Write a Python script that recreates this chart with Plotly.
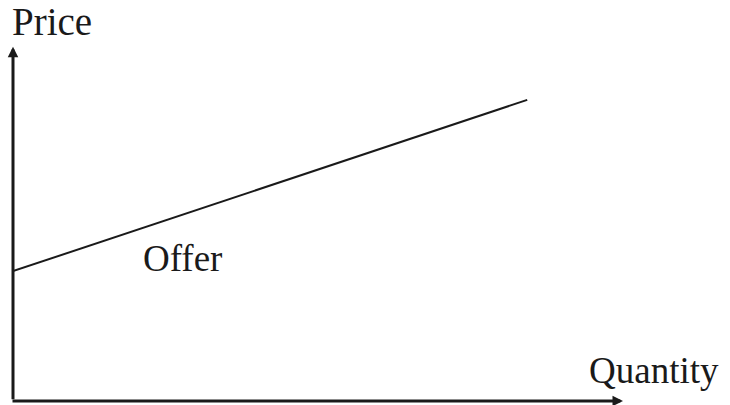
import plotly.graph_objects as go

# Offer (supply) curve: price rises linearly with quantity
quantity = [0.0, 8.43]
price = [3.70, 8.58]

x_label = "Quantity"
y_label = "Price"
curve_label = "Offer"

INK = "#1a1a1a"
FONT = "Liberation Serif, Times New Roman, serif"

fig = go.Figure()
fig.add_trace(go.Scatter(
    x=quantity, y=price, mode="lines",
    line=dict(color=INK, width=2),
    cliponaxis=False, hoverinfo="skip", showlegend=False,
))

annotations = [
    # vertical axis with arrow
    dict(x=0, y=1.009, xref="paper", yref="paper", ax=0, ay=354, axref="pixel", ayref="pixel",
         showarrow=True, arrowhead=2, arrowsize=0.7, arrowwidth=3, arrowcolor=INK, text="",
         standoff=0, startstandoff=0),
    # horizontal axis with arrow
    dict(x=1, y=0, xref="paper", yref="paper", ax=-612, ay=0,
         showarrow=True, arrowhead=2, arrowsize=0.7, arrowwidth=3, arrowcolor=INK, text="",
         standoff=0, startstandoff=0),
    dict(x=-0.0049, y=1.080, xref="paper", yref="paper", xanchor="left", yanchor="middle",
         text=y_label, showarrow=False, font=dict(family=FONT, size=39, color=INK)),
    dict(x=1.051, y=0.088, xref="paper", yref="paper", xanchor="center", yanchor="middle",
         text=x_label, showarrow=False, font=dict(family=FONT, size=37, color=INK)),
    dict(x=2.78, y=4.07, xref="x", yref="y", xanchor="center", yanchor="middle",
         text=curve_label, showarrow=False, font=dict(family=FONT, size=37, color=INK)),
]

fig.update_layout(
    width=730, height=405,
    margin=dict(l=13, r=107, t=50, b=4),
    paper_bgcolor="white", plot_bgcolor="white",
    xaxis=dict(range=[0, 10], visible=False, fixedrange=True),
    yaxis=dict(range=[0, 10], visible=False, fixedrange=True),
    annotations=annotations,
)

fig.write_html("out.html")
